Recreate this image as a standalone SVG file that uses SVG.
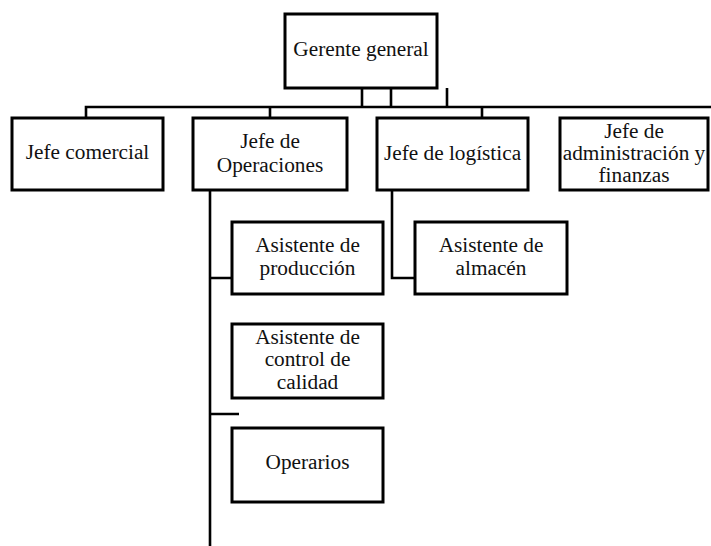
<svg xmlns="http://www.w3.org/2000/svg" width="711" height="546" viewBox="0 0 711 546">
<style>
.box{fill:#fff;stroke:#000;stroke-width:3}
.ln{fill:none;stroke:#000;stroke-width:2.6}
text{font-family:"Liberation Serif","Times New Roman",serif;font-size:21.3px;fill:#111;text-anchor:middle}
</style>
<rect width="711" height="546" fill="#fff"/>
<g id="connectors">
<path class="ln" d="M362 88V107M391 88V107M447 88V107"/>
<path class="ln" d="M86 118V107H711"/>
<path class="ln" d="M270 107V118M482 107V118"/>
<path class="ln" d="M210 190V546M210 278H232M210 414H239"/>
<path class="ln" d="M392 190V278H415"/>
</g>
<g id="gerente"><rect class="box" x="285" y="14" width="152" height="74"/><text x="361" y="56">Gerente general</text></g>
<g id="comercial"><rect class="box" x="12" y="118" width="151" height="72"/><text x="87.5" y="159">Jefe comercial</text></g>
<g id="operaciones"><rect class="box" x="193" y="118" width="154" height="72"/><text x="270" y="148">Jefe de</text><text x="270" y="172">Operaciones</text></g>
<g id="logistica"><rect class="box" x="377" y="118" width="151" height="72"/><text x="452.5" y="160">Jefe de logística</text></g>
<g id="administracion"><rect class="box" x="560" y="118" width="148" height="72"/><text x="634" y="138">Jefe de</text><text x="634" y="160">administración y</text><text x="634" y="182">finanzas</text></g>
<g id="produccion"><rect class="box" x="232" y="222" width="151" height="72"/><text x="307.5" y="252">Asistente de</text><text x="307.5" y="275">producción</text></g>
<g id="almacen"><rect class="box" x="415" y="222" width="152" height="72"/><text x="491" y="252">Asistente de</text><text x="491" y="275">almacén</text></g>
<g id="calidad"><rect class="box" x="232" y="324" width="151" height="74"/><text x="307.5" y="344">Asistente de</text><text x="307.5" y="366">control de</text><text x="307.5" y="389">calidad</text></g>
<g id="operarios"><rect class="box" x="232" y="428" width="151" height="74"/><text x="307.5" y="469">Operarios</text></g>
</svg>
